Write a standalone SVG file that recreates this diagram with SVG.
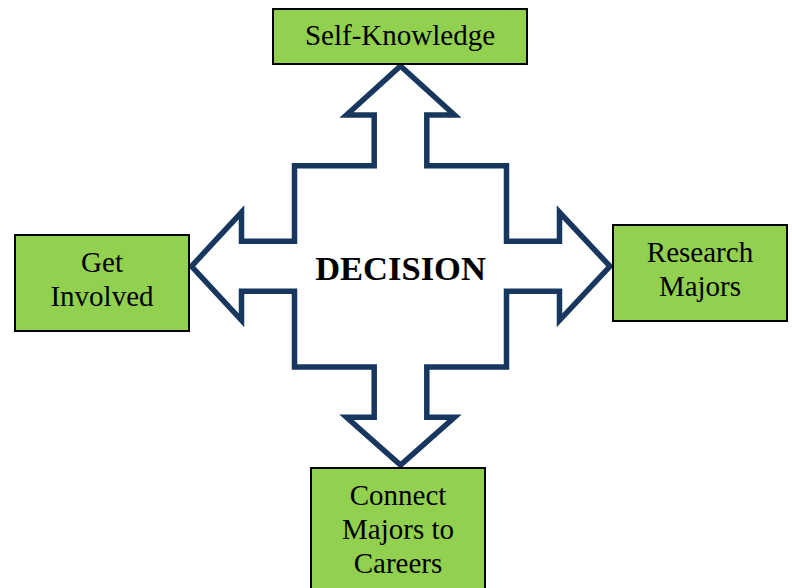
<svg xmlns="http://www.w3.org/2000/svg" width="792" height="588" viewBox="0 0 792 588">
<style>
.box{fill:#92D050;stroke:#000;stroke-width:2}
.t{font-family:"Liberation Serif","Times New Roman",serif;font-size:29px;fill:#000;text-anchor:middle}
.arrow{fill:#fff;stroke:#17375E;stroke-width:5.5;stroke-linejoin:miter;stroke-miterlimit:10}
.d{font-family:"Liberation Serif","Times New Roman",serif;font-size:34.5px;font-weight:bold;fill:#000;text-anchor:middle}
</style>
<rect width="792" height="588" fill="#fff"/>
<g id="connectors">
<path class="arrow" d="M400.5,66 L454.5,115 L426.8,115 L426.8,165.7 L506.5,165.7 L506.5,241.3 L559.5,241.3 L559.5,212.3 L610,266.3 L559.5,320.3 L559.5,291.3 L506.5,291.3 L506.5,367 L426.8,367 L426.8,417.3 L454.5,417.3 L400.5,465 L346.5,417.3 L374.2,417.3 L374.2,367 L294.5,367 L294.5,291.3 L241.5,291.3 L241.5,320.3 L191.5,266.3 L241.5,212.3 L241.5,241.3 L294.5,241.3 L294.5,165.7 L374.2,165.7 L374.2,115 L346.5,115 Z"/>
</g>
<g id="decision">
<text class="d" x="400.5" y="280">DECISION</text>
</g>
<g id="self-knowledge">
<rect class="box" x="273" y="9" width="254" height="55"/>
<text class="t" x="400" y="45">Self-Knowledge</text>
</g>
<g id="get-involved">
<rect class="box" x="15" y="235" width="174" height="96"/>
<text class="t" x="102" y="272">Get</text>
<text class="t" x="102" y="306">Involved</text>
</g>
<g id="research-majors">
<rect class="box" x="613" y="225" width="174" height="96"/>
<text class="t" x="700" y="262">Research</text>
<text class="t" x="700" y="296">Majors</text>
</g>
<g id="connect-majors">
<rect class="box" x="311" y="468" width="174" height="125"/>
<text class="t" x="398" y="505">Connect</text>
<text class="t" x="398" y="538.5">Majors to</text>
<text class="t" x="398" y="572.5">Careers</text>
</g>
</svg>
